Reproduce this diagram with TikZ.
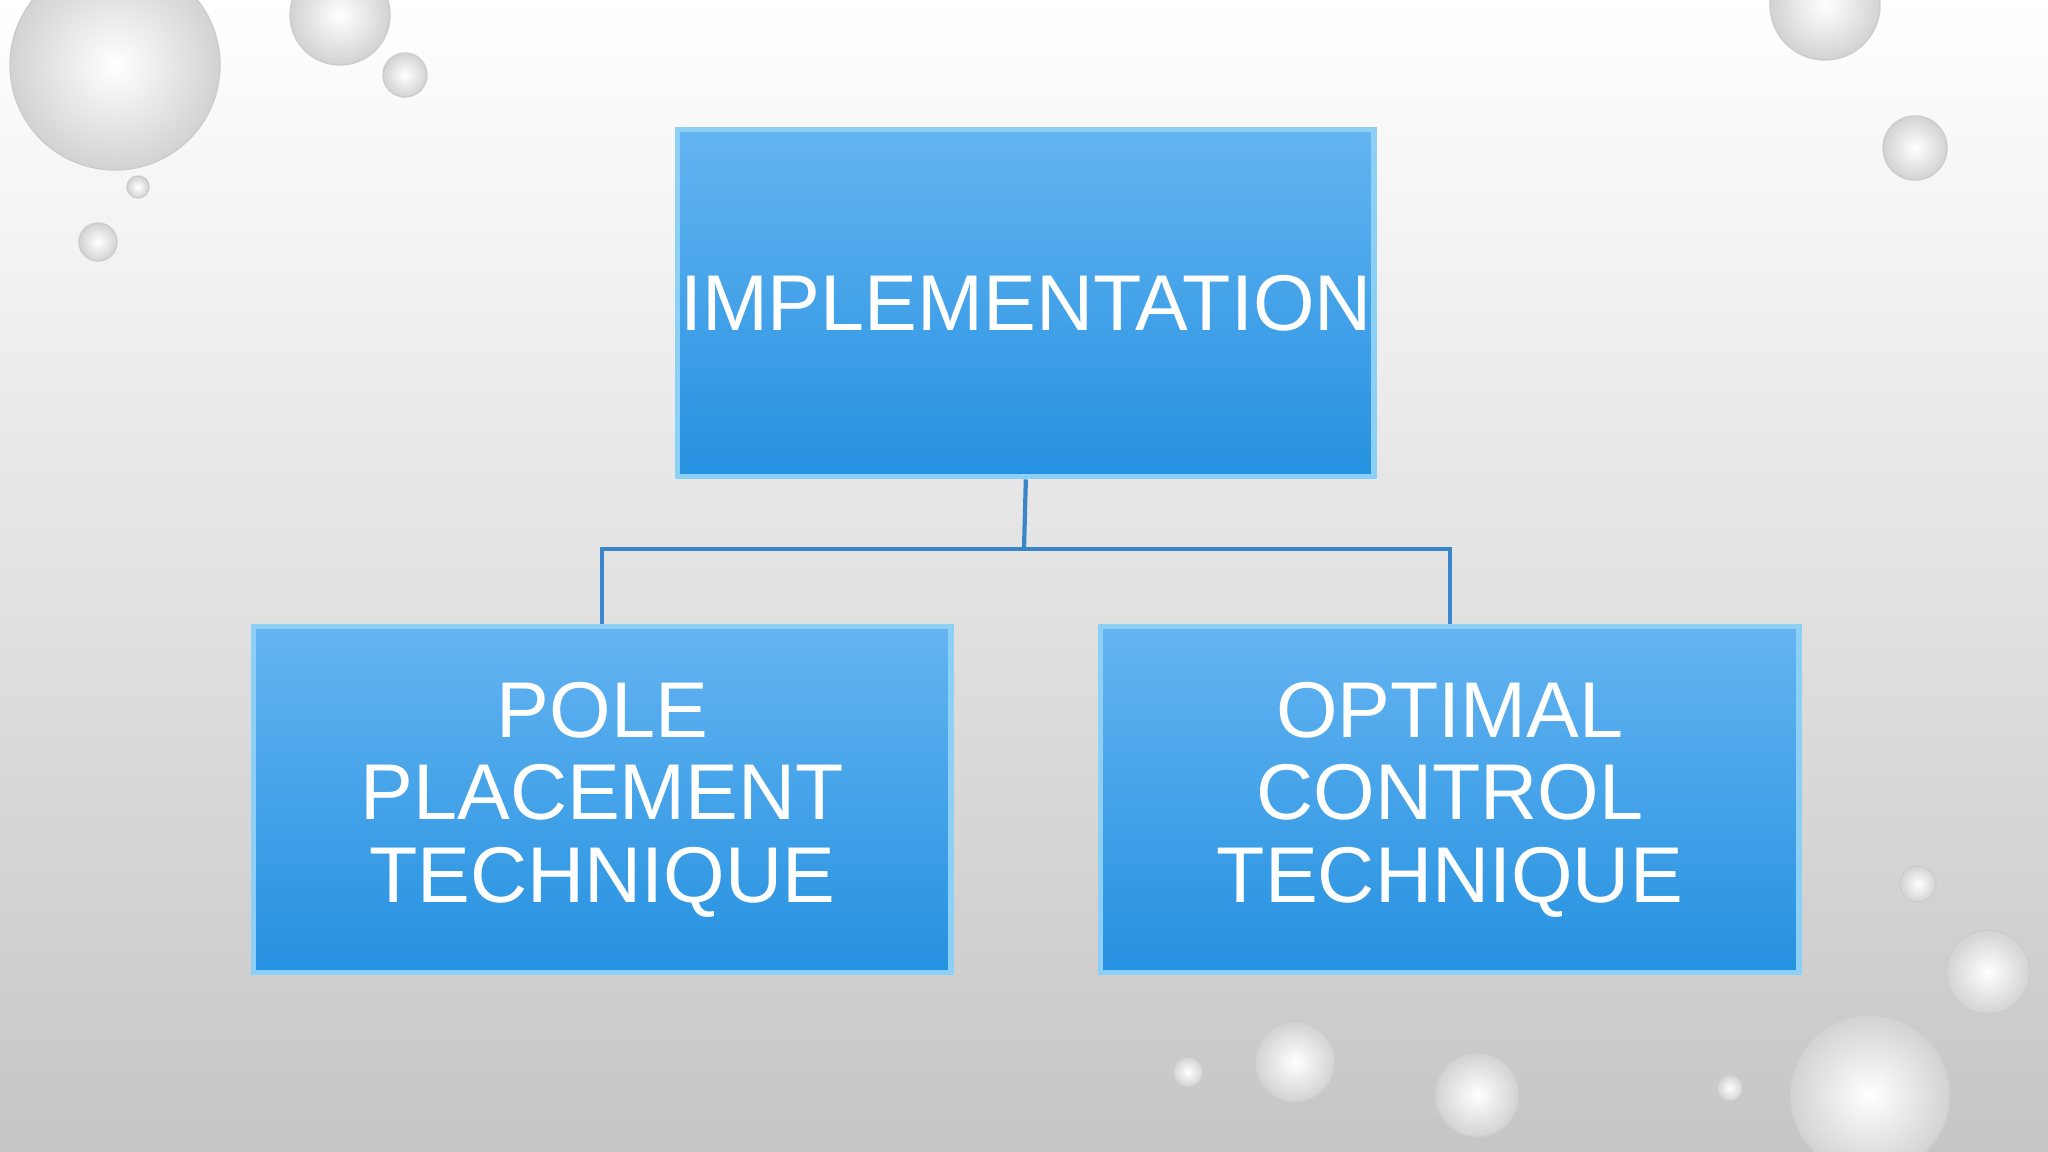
\documentclass[tikz,border=0pt]{standalone}
\usepackage{fontspec}
\setmainfont{Liberation Sans}
\definecolor{btop}{HTML}{64B4F1}
\definecolor{bbot}{HTML}{2591E0}
\definecolor{bedge}{HTML}{8CD0F5}
\definecolor{lnk}{HTML}{3A86C8}
\begin{document}
\begin{tikzpicture}[x=0.01cm,y=-0.01cm,
  box/.style={draw=bedge,line width=1.5pt,top color=btop,bottom color=bbot,anchor=north west,inner sep=0pt,text=white,align=center,font=\fontsize{22.5}{23.5}\selectfont},
  link/.style={draw=lnk,line width=1.2pt},
  drop/.style={inner color=white,outer color=gray!35,draw=gray!40}]
\useasboundingbox (0,0) rectangle (2048,1152);
\shade[top color=white,bottom color=gray!45] (0,0) rectangle (2048,1152);
\foreach \x/\y/\r in {115/65/105,340/15/50,405/75/22,138/187/11,98/242/19,1825/5/55,1915/148/32,1918/884/18,1988/972/42,1870/1095/80,1295/1062/40,1477/1095/42,1188/1072/15,1730/1088/13}
  \shade[drop] (\x,\y) circle (\r);
\node[box,minimum width=6.96cm,minimum height=3.47cm] (top) at (675,127) {IMPLEMENTATION};
\node[box,minimum width=6.97cm,minimum height=3.46cm] (left) at (251,624) {POLE\\PLACEMENT\\TECHNIQUE};
\node[box,minimum width=6.98cm,minimum height=3.46cm] (right) at (1098,624) {OPTIMAL\\CONTROL\\TECHNIQUE};
\coordinate (mid) at (1024,549);
\draw[link] (top.south) -- (mid);
\draw[link] (mid) -| (left.north);
\draw[link] (mid) -| (right.north);
\end{tikzpicture}
\end{document}
